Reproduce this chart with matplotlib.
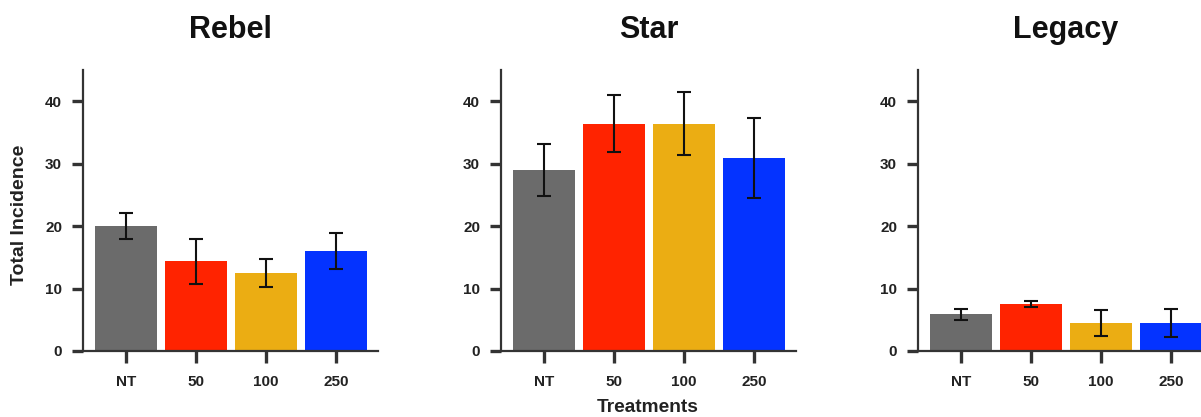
import matplotlib
matplotlib.use("Agg")
import matplotlib.pyplot as plt
import numpy as np

plt.rcParams['font.family'] = ['Liberation Sans', 'DejaVu Sans']

treatments = ["NT", "50", "100", "250"]
colors = ["#6b6b6b", "#ff2300", "#ebad13", "#0433ff"]

panels = ["Rebel", "Star", "Legacy"]
rebel_means = [20.0, 14.4, 12.5, 16.0]
rebel_err = [2.1, 3.6, 2.25, 2.9]
star_means = [29.0, 36.4, 36.4, 30.9]
star_err = [4.15, 4.55, 5.0, 6.4]
legacy_means = [5.9, 7.5, 4.45, 4.45]
legacy_err = [0.9, 0.5, 2.1, 2.2]

means = [rebel_means, star_means, legacy_means]
errs = [rebel_err, star_err, legacy_err]
yticks = [0, 10, 20, 30, 40]

W, H = 1201, 417
fig = plt.figure(figsize=(W / 100, H / 100), dpi=100)

lefts_px = [83, 501, 918]
ax_w_px = 295
bottom_px = 351
top_px = 70

spine_col = "#333333"
for i, name in enumerate(panels):
    ax = fig.add_axes([lefts_px[i] / W, (H - bottom_px) / H,
                       ax_w_px / W, (bottom_px - top_px) / H])
    x = np.arange(len(treatments))
    ax.bar(x, means[i], width=0.89, color=colors, edgecolor='none', zorder=2)
    ax.errorbar(x, means[i], yerr=errs[i], fmt='none', ecolor='#111111',
                elinewidth=1.5, capsize=4.7, capthick=1.5, zorder=3)
    ax.set_xlim(-0.61, 3.595)
    ax.set_ylim(0, 45)
    ax.set_xticks(x)
    ax.set_xticklabels(treatments)
    ax.set_yticks(yticks)
    for s in ['top', 'right']:
        ax.spines[s].set_visible(False)
    for s in ['left', 'bottom']:
        ax.spines[s].set_linewidth(1.6)
        ax.spines[s].set_color(spine_col)
    ax.tick_params(axis='x', direction='out', length=8.6, width=2.4,
                   color=spine_col, pad=9.0, labelsize=11, labelcolor='#222222')
    ax.tick_params(axis='y', direction='out', length=8.0, width=2.4,
                   color=spine_col, pad=7, labelsize=11, labelcolor='#222222')
    for lab in ax.get_xticklabels() + ax.get_yticklabels():
        lab.set_fontweight('bold')
    ax.set_title(name, fontsize=22, fontweight='bold', pad=23, color='#111111')

fig.text(648 / W, 1.0 / H, "Treatments", ha='center', va='bottom',
         fontsize=13.8, fontweight='bold', color='#222222')
fig.text(20 / W, 1 - 215 / H, "Total Incidence", ha='center', va='center',
         rotation=90, fontsize=14, fontweight='bold', color='#222222')

fig.savefig("out.png", dpi=100)
